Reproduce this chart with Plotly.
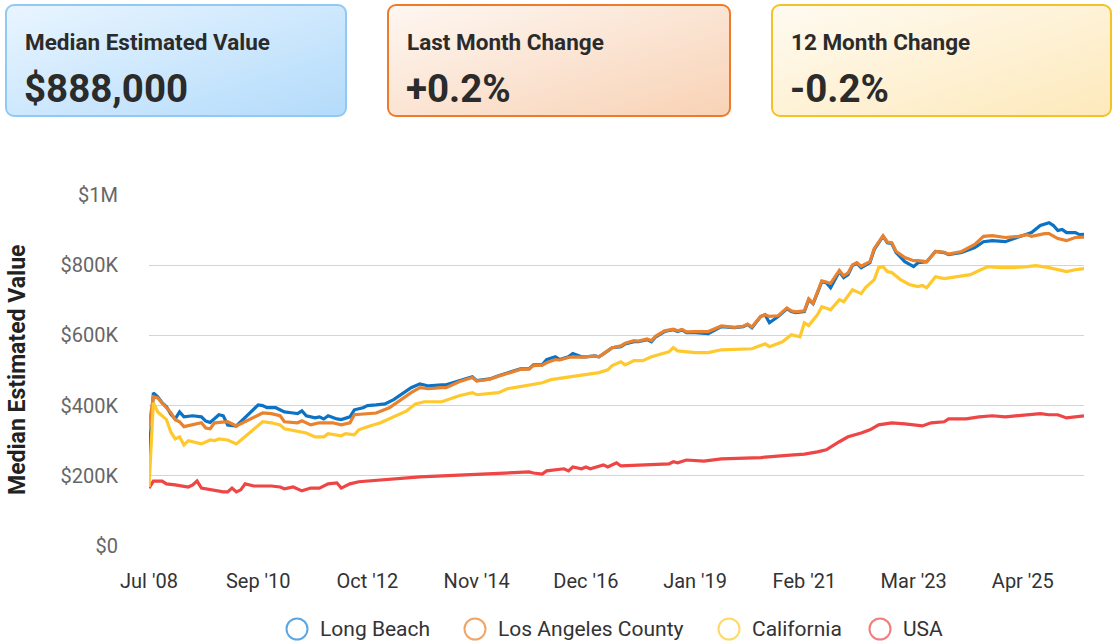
import base64
import plotly.graph_objects as go

# ---------------- data (values in $K, x = month index from Jul 2008) ----------------
tick_index = [0, 25, 50, 75, 100, 125, 150, 175, 200]
tick_labels = ["Jul '08", "Sep '10", "Oct '12", "Nov '14", "Dec '16", "Jan '19", "Feb '21", "Mar '23", "Apr '25"]

y_ticks = [0, 200000, 400000, 600000, 800000, 1000000]
y_tick_labels = ["$0", "$200K", "$400K", "$600K", "$800K", "$1M"]

series_names = ["Long Beach", "Los Angeles County", "California", "USA"]
series_colors = ["#0b72c4", "#e8822e", "#ffc92e", "#ee4545"]
legend_colors = ["#5aa7e3", "#f0a466", "#ffd866", "#f27c7c"]

lb_idx = [0, 1, 2, 3, 4, 5, 6, 7, 8, 10, 12, 13, 14, 16, 17, 18, 20, 23, 25, 26, 27, 29, 31, 33, 34, 35, 36, 38, 39, 40,
          41, 43, 44, 46, 47, 49, 50, 52, 54, 56, 58, 59, 60, 62, 64, 67, 68, 71, 74, 75, 78, 80, 83, 85, 87, 88, 90, 91,
          93, 94, 96, 97, 99, 100, 102, 103, 105, 106, 108, 109, 111, 112, 114, 115, 116, 118, 120, 121, 122, 123, 125,
          128, 131, 134, 136, 137, 138, 140, 141, 142, 144, 146, 147, 148, 150, 151, 152, 153, 154, 155, 156, 158, 159,
          160, 161, 162, 163, 165, 166, 168, 169, 170, 171, 173, 175, 176, 178, 180, 182, 183, 186, 189, 191, 193, 196,
          198, 200, 202, 204, 206, 207, 208, 209, 210, 212, 213, 214]
lb_val = [251, 436, 425, 408, 397, 375, 362, 382, 368, 371, 368, 356, 352, 374, 371, 345, 342, 379, 402, 400, 394, 394,
          382, 379, 377, 385, 371, 365, 368, 362, 371, 362, 360, 368, 388, 394, 400, 402, 405, 417, 434, 445, 451, 462,
          456, 459, 459, 471, 482, 471, 476, 485, 496, 505, 505, 516, 516, 531, 539, 531, 539, 548, 539, 539, 542, 539,
          556, 565, 568, 576, 582, 582, 588, 582, 596, 611, 616, 611, 616, 608, 608, 605, 625, 622, 625, 631, 622, 654,
          659, 636, 654, 676, 668, 665, 668, 702, 690, 722, 753, 750, 736, 782, 765, 773, 799, 805, 793, 807, 845, 882,
          864, 862, 836, 810, 796, 807, 810, 839, 836, 830, 836, 850, 867, 870, 867, 876, 884, 893, 913, 921, 913, 899,
          902, 893, 893, 887, 888]

la_idx = [0, 1, 2, 3, 4, 5, 6, 7, 8, 10, 12, 13, 14, 15, 18, 20, 22, 26, 28, 30, 31, 34, 35, 37, 39, 42, 44, 46, 47, 50,
          52, 55, 57, 60, 62, 64, 67, 68, 71, 74, 75, 78, 80, 83, 85, 87, 88, 90, 91, 93, 94, 96, 97, 99, 100, 102, 103,
          105, 106, 108, 109, 111, 112, 114, 115, 116, 118, 120, 121, 122, 123, 125, 128, 131, 134, 136, 137, 138, 140,
          141, 142, 144, 146, 147, 148, 150, 151, 152, 153, 154, 155, 156, 158, 159, 160, 161, 162, 163, 165, 166, 168,
          169, 170, 171, 173, 175, 176, 178, 180, 182, 183, 186, 189, 191, 193, 196, 199, 201, 202, 205, 206, 208, 210,
          212, 214]
la_val = [340, 425, 422, 408, 397, 380, 360, 354, 340, 345, 351, 336, 334, 351, 354, 342, 354, 379, 377, 371, 354, 351,
          357, 345, 351, 351, 345, 351, 374, 377, 379, 394, 411, 437, 451, 448, 451, 451, 468, 480, 470, 475, 484, 495,
          503, 504, 514, 515, 522, 531, 530, 537, 539, 538, 539, 541, 539, 555, 565, 570, 578, 585, 584, 590, 585, 598,
          613, 618, 613, 617, 610, 611, 611, 627, 623, 626, 632, 624, 654, 659, 654, 656, 678, 670, 667, 670, 704, 692,
          724, 755, 752, 748, 785, 770, 778, 801, 807, 797, 810, 848, 884, 866, 864, 839, 822, 813, 813, 810, 839, 837,
          832, 839, 859, 882, 884, 879, 882, 887, 882, 890, 890, 876, 870, 879, 880]

ca_idx = [0, 1, 2, 4, 5, 6, 7, 8, 9, 12, 14, 15, 16, 18, 20, 23, 26, 28, 30, 31, 34, 36, 38, 40, 41, 44, 45, 47, 48, 50,
          53, 56, 59, 61, 63, 67, 69, 71, 74, 75, 80, 82, 86, 90, 92, 96, 99, 103, 105, 106, 108, 109, 111, 113, 115, 118,
          119, 120, 121, 125, 128, 131, 138, 141, 142, 145, 147, 149, 150, 151, 153, 154, 156, 158, 159, 161, 163, 164,
          166, 167, 168, 169, 170, 172, 174, 176, 177, 178, 180, 182, 185, 188, 190, 192, 195, 198, 201, 203, 206, 208,
          210, 212, 214]
ca_val = [168, 408, 382, 360, 325, 305, 311, 288, 300, 291, 302, 300, 305, 302, 291, 322, 354, 351, 345, 334, 328, 322,
          311, 311, 320, 314, 320, 317, 331, 340, 351, 368, 385, 405, 411, 411, 419, 428, 437, 431, 437, 448, 456, 465,
          474, 482, 488, 494, 502, 514, 525, 516, 528, 528, 539, 551, 553, 565, 556, 551, 551, 559, 562, 576, 568, 582,
          602, 596, 636, 628, 659, 682, 673, 702, 696, 730, 719, 736, 759, 793, 796, 782, 779, 759, 745, 739, 742, 736,
          767, 762, 767, 773, 785, 796, 793, 793, 796, 799, 793, 787, 782, 787, 790]

us_idx = [0, 1, 3, 4, 6, 9, 10, 11, 12, 15, 17, 18, 19, 20, 21, 22, 24, 28, 30, 31, 33, 35, 37, 39, 40, 41, 43, 44, 46,
          48, 62, 87, 88, 90, 91, 95, 96, 97, 99, 100, 101, 104, 105, 107, 108, 119, 120, 121, 123, 127, 131, 140, 146,
          150, 153, 155, 158, 160, 163, 165, 167, 170, 173, 177, 179, 182, 183, 187, 190, 193, 196, 201, 204, 206, 208,
          210, 214]
us_val = [165, 185, 185, 177, 174, 168, 174, 185, 165, 157, 154, 154, 165, 154, 160, 177, 171, 171, 168, 163, 168, 157,
          165, 165, 171, 177, 180, 165, 177, 183, 197, 211, 208, 205, 214, 220, 214, 225, 220, 225, 220, 231, 225, 237,
          228, 234, 240, 237, 245, 242, 248, 252, 258, 262, 268, 274, 297, 311, 322, 331, 345, 351, 348, 342, 351, 354,
          362, 362, 368, 371, 368, 374, 377, 374, 374, 365, 371]

card_titles = ["Median Estimated Value", "Last Month Change", "12 Month Change"]
card_values = ["$888,000", "+0.2%", "-0.2%"]

# ---------------- layout helpers ----------------
W, H = 1113, 642
L, R, T, B = 149, 29, 195, 96
PW, PH = W - L - R, H - T - B


def fx(px):
    return (px - L) / PW


def fy(py):
    return (H - B - py) / PH


FONT = "Roboto, 'Noto Sans', Arial, sans-serif"

fig = go.Figure()
order = [3, 0, 1, 2]
all_idx = [lb_idx, la_idx, ca_idx, us_idx]
all_val = [lb_val, la_val, ca_val, us_val]
for k in order:
    fig.add_trace(go.Scatter(
        x=all_idx[k], y=[v * 1000 for v in all_val[k]], mode="lines", name=series_names[k],
        line=dict(color=series_colors[k], width=3.2), showlegend=False,
        hovertemplate="%{y:$,.0f}<extra>" + series_names[k] + "</extra>"))

shapes = []
annotations = []
images = []

# ---------------- cards ----------------
card_boxes = [(5, 347), (387, 731), (771, 1112)]
card_top, card_bot = 4, 117
card_grad = [("#e9f5ff", "#b3dbfb", "#91c9f5"), ("#fef7f2", "#f8d2b5", "#ee7a2a"), ("#fffbf2", "#fde9bb", "#f6c125")]
for (x0, x1), (c0, c1, border), title, val in zip(card_boxes, card_grad, card_titles, card_values):
    w, h = x1 - x0, card_bot - card_top
    svg = (f'<svg xmlns="http://www.w3.org/2000/svg" width="{w}" height="{h}" viewBox="0 0 {w} {h}">'
           f'<defs><linearGradient id="g" x1="0" y1="0" x2="1" y2="1">'
           f'<stop offset="0" stop-color="{c0}"/><stop offset="1" stop-color="{c1}"/></linearGradient></defs>'
           f'<rect x="1" y="1" width="{w - 2}" height="{h - 2}" rx="8" ry="8" fill="url(#g)" '
           f'stroke="{border}" stroke-width="2"/></svg>')
    src = "data:image/svg+xml;base64," + base64.b64encode(svg.encode()).decode()
    images.append(dict(source=src, xref="paper", yref="paper", x=fx(x0), y=fy(card_top),
                       sizex=w / PW, sizey=h / PH, xanchor="left", yanchor="top", sizing="stretch", layer="below"))
    annotations.append(dict(text=f"<b>{title}</b>", xref="paper", yref="paper", x=fx(x0 + 18), y=fy(42),
                            xanchor="left", yanchor="middle", showarrow=False,
                            font=dict(family=FONT, size=22.5, color="#2b2b2b")))
    annotations.append(dict(text=f"<b>{val}</b>", xref="paper", yref="paper", x=fx(x0 + 17), y=fy(88),
                            xanchor="left", yanchor="middle", showarrow=False,
                            font=dict(family=FONT, size=38.5, color="#2b2b2b")))

# ---------------- y-axis title ----------------
annotations.append(dict(text="<b>Median Estimated Value</b>", xref="paper", yref="paper", x=fx(17), y=fy(370),
                        xanchor="center", yanchor="middle", textangle=-90, showarrow=False,
                        font=dict(family=FONT, size=23, color="#222222")))

# ---------------- legend (manual) ----------------
legend_cx = [297, 475, 729, 880]
legend_cy = 629
rad = 10.5
for name, col, cx in zip(series_names, legend_colors, legend_cx):
    shapes.append(dict(type="circle", xref="paper", yref="paper",
                       x0=fx(cx - rad), x1=fx(cx + rad), y0=fy(legend_cy + rad), y1=fy(legend_cy - rad),
                       line=dict(color=col, width=2), fillcolor="rgba(0,0,0,0)"))
    annotations.append(dict(text=name, xref="paper", yref="paper", x=fx(cx + 21), y=fy(legend_cy),
                            xanchor="left", yanchor="middle", showarrow=False,
                            font=dict(family=FONT, size=21, color="#333333")))

fig.update_layout(
    width=W, height=H,
    margin=dict(l=L, r=R, t=T, b=B, pad=0),
    paper_bgcolor="white", plot_bgcolor="white",
    font=dict(family=FONT),
    showlegend=False,
    shapes=shapes, annotations=annotations, images=images,
    xaxis=dict(range=[0, 214], tickmode="array", tickvals=tick_index, ticktext=tick_labels,
               showgrid=False, zeroline=False, showline=False,
               ticks="outside", ticklen=17, tickcolor="rgba(0,0,0,0)",
               tickfont=dict(family=FONT, size=20, color="#333333")),
    yaxis=dict(range=[0, 1000000], tickmode="array", tickvals=y_ticks, ticktext=y_tick_labels,
               showgrid=True, gridcolor="#d4d4d4", gridwidth=1, zeroline=False, showline=False,
               ticks="outside", ticklen=26, tickcolor="rgba(0,0,0,0)",
               tickfont=dict(family=FONT, size=20, color="#666666")),
)

fig.write_html("out.html", config={"displayModeBar": False},
               post_script="document.body.style.margin='0';")
